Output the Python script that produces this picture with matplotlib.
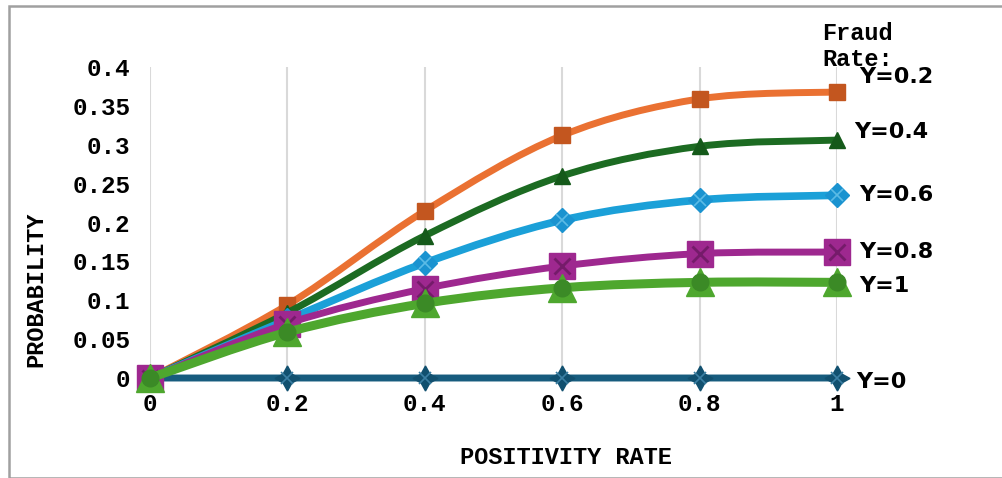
import numpy as np
import matplotlib
matplotlib.use("Agg")
import matplotlib.pyplot as plt
from matplotlib.path import Path
from matplotlib.patches import PathPatch, Rectangle

# Positivity rate on the x axis
positivity = [0, 0.2, 0.4, 0.6, 0.8, 1.0]

# Probability for each fraud rate
prob_y02 = [0, 0.094, 0.215, 0.312, 0.359, 0.368]
prob_y04 = [0, 0.084, 0.183, 0.260, 0.298, 0.306]
prob_y06 = [0, 0.075, 0.148, 0.203, 0.229, 0.235]
prob_y08 = [0, 0.070, 0.115, 0.144, 0.160, 0.162]
prob_y1 = [0, 0.059, 0.096, 0.116, 0.123, 0.123]
prob_y0 = [0, 0, 0, 0, 0, 0]

series_labels = ["Y=0", "Y=0.2", "Y=0.4", "Y=0.6", "Y=0.8", "Y=1"]

mono = "Liberation Mono"
sans = "DejaVu Sans"


def smooth_path(xs, ys):
    # Catmull-Rom style bezier through the points (like spreadsheet smoothed lines)
    pts = np.column_stack([xs, ys]).astype(float)
    verts = [pts[0]]
    codes = [Path.MOVETO]
    n = len(pts)
    for i in range(n - 1):
        p0 = pts[i - 1] if i > 0 else pts[i]
        p1 = pts[i]
        p2 = pts[i + 1]
        p3 = pts[i + 2] if i + 2 < n else pts[i + 1]
        c1 = p1 + (p2 - p0) / 6.0
        c2 = p2 - (p3 - p1) / 6.0
        verts += [c1, c2, p2]
        codes += [Path.CURVE4] * 3
    return Path(verts, codes)


fig = plt.figure(figsize=(10.03, 4.78), dpi=100)
ax = fig.add_axes([0.1496, 0.2092, 0.685, 0.6506])

# frame around the whole chart
fig.patches.append(Rectangle((0.0085, 0.0), 1.2, 0.987, transform=fig.transFigure,
                             fill=False, edgecolor="#a0a0a0", linewidth=1.8))

ax.set_xlim(0, 1)
ax.set_ylim(0, 0.4)
ax.set_xticks(positivity)
ax.set_xticklabels(["0", "0.2", "0.4", "0.6", "0.8", "1"])
ax.set_yticks(np.arange(0, 0.41, 0.05))
ax.set_yticklabels(["0", "0.05", "0.1", "0.15", "0.2", "0.25", "0.3", "0.35", "0.4"])
for lab in ax.get_xticklabels() + ax.get_yticklabels():
    lab.set_fontfamily(mono)
    lab.set_fontweight("bold")
    lab.set_fontsize(17.5)
ax.tick_params(length=0)
ax.tick_params(axis="x", pad=11)
ax.tick_params(axis="y", pad=14)
for s in ax.spines.values():
    s.set_visible(False)
ax.grid(axis="x", color="#d9d9d9", linewidth=1.5)
ax.set_axisbelow(True)


def draw_series(ys, color, lw, markers, z):
    ax.add_patch(PathPatch(smooth_path(positivity, ys), facecolor="none",
                           edgecolor=color, linewidth=lw, capstyle="butt",
                           zorder=z, clip_on=False))
    for m in markers:
        ax.plot(positivity, ys, linestyle="none", clip_on=False, zorder=z + 0.1, **m)


# Y=0
draw_series(prob_y0, "#175c7e", 5,
            [dict(marker=(4, 1, 0), markersize=18, color="#11506f"),
             dict(marker="x", markersize=9, color="#3b7fa3", markeredgewidth=1.2)], 2)
# Y=0.2
draw_series(prob_y02, "#ea7132", 5,
            [dict(marker="s", markersize=11, color="#c3561f")], 3)
# Y=0.4
draw_series(prob_y04, "#1c6b22", 5,
            [dict(marker="^", markersize=12, color="#155a1a")], 4)
# Y=0.6
draw_series(prob_y06, "#1ba0d8", 5.5,
            [dict(marker="D", markersize=12, color="#1a93d0"),
             dict(marker="x", markersize=8, color="#5bbbe6", markeredgewidth=1.2)], 5)
# Y=0.8
draw_series(prob_y08, "#9e288f", 5,
            [dict(marker="s", markersize=19, color="#9e288f"),
             dict(marker="x", markersize=11, color="#751b6a", markeredgewidth=2)], 6)
# Y=1
draw_series(prob_y1, "#4ea72e", 6.5,
            [dict(marker="^", markersize=20, color="#4ea72e"),
             dict(marker="o", markersize=12, color="#3b8a26")], 7)

# series names at the right end of each line
end_y = [prob_y0[-1], prob_y02[-1], prob_y04[-1], prob_y06[-1], prob_y08[-1], prob_y1[-1]]
offsets = [-0.005, 0.019, 0.01, 0.0, 0.0, -0.005]
xoff = [0.028, 0.032, 0.025, 0.032, 0.032, 0.032]
for lab, yv, dy, dx in zip(series_labels, end_y, offsets, xoff):
    ax.text(1 + dx, yv + dy, lab, fontfamily=sans, fontweight="bold", fontsize=16,
            ha="left", va="center", clip_on=False)

fig.text(0.8195, 0.955, "Fraud\nRate:", fontfamily=mono, fontweight="bold", fontsize=17,
         ha="left", va="top", linespacing=1.2)

fig.text(0.564, 0.042, "POSITIVITY RATE", fontfamily=mono, fontweight="bold",
         fontsize=17, ha="center", va="center")
fig.text(0.036, 0.395, "PROBABILITY", fontfamily=mono, fontweight="bold",
         fontsize=17, ha="center", va="center", rotation=90)

fig.savefig("out.png", dpi=100)
